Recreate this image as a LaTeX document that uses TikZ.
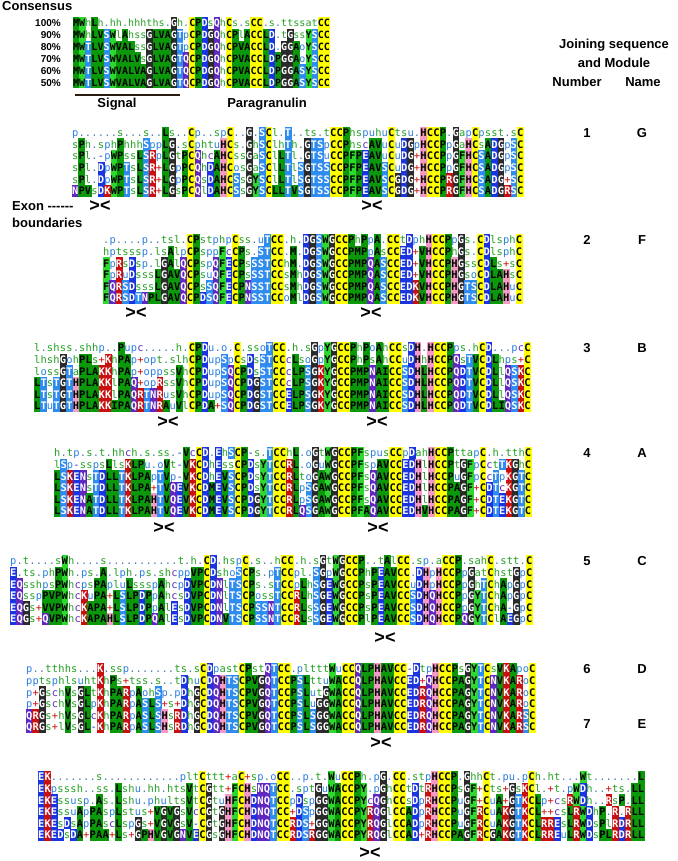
\documentclass[tikz,border=0pt]{standalone}
\usepackage{fontspec}
\setmainfont{Liberation Sans}
\newfontfamily\seqfont{DejaVu Sans Mono}
\definecolor{cY}{HTML}{FFFF00}
\definecolor{cG}{HTML}{2A2A2A}
\definecolor{cHy}{HTML}{0B990B}
\definecolor{cAr}{HTML}{2FD82F}
\definecolor{cPk}{HTML}{F59AC4}
\definecolor{cSk}{HTML}{2E8BF0}
\definecolor{cBl}{HTML}{1A35E0}
\definecolor{cPu}{HTML}{6028C0}
\definecolor{cRd}{HTML}{C81010}
\definecolor{tGn}{HTML}{23A023}
\definecolor{tBl}{HTML}{2A7FE0}
\definecolor{tPu}{HTML}{6028C0}
\definecolor{tRd}{HTML}{D01010}
\definecolor{tDk}{HTML}{1A35E0}
\definecolor{tDot}{HTML}{4F7FAF}
\definecolor{barc}{HTML}{2A1A10}
\makeatletter
\newdimen\sqxo \newdimen\sqw \newdimen\sqyc \newdimen\sqh \newdimen\sqhh \newdimen\sqbl
\newcount\sqi
\def\sqfs{10.4}
\sqbl=3.8pt
\def\sqtxt#1#2{\pgftext[base,at={\pgfqpoint{\dimexpr\sqxo+\sqw*\sqi+0.5\sqw\relax}{\dimexpr-\sqyc-\sqbl\relax}}]{\seqfont\fontsize{\sqfs}{\sqfs}\selectfont#2\color{#1}\sqch}}
\def\sqbox#1#2{\pgfsetfillcolor{#1}%
  \pgfpathrectangle{\pgfqpoint{\dimexpr\sqxo+\sqw*\sqi\relax}{\dimexpr-\sqyc-\sqhh\relax}}{\pgfqpoint{\dimexpr\sqw+0.3pt\relax}{\dimexpr\sqh+0.3pt\relax}}%
  \pgfusepath{fill}\sqtxt{#2}{\bfseries}}
\def\defbox#1#2#3{\@namedef{rs@#1}{\sqbox{#2}{#3}}}
\def\deftxt#1#2{\@namedef{rs@#1}{\sqtxt{#2}{}}}
\defbox{C}{cY}{black}
\defbox{G}{cG}{white}
\defbox{A}{cHy}{black}\defbox{V}{cHy}{black}\defbox{L}{cHy}{black}
\defbox{I}{cHy}{black}\defbox{M}{cHy}{black}\defbox{P}{cHy}{black}
\defbox{F}{cAr}{black}\defbox{W}{cAr}{black}\defbox{Y}{cAr}{black}
\defbox{H}{cPk}{black}
\defbox{S}{cSk}{white}\defbox{T}{cSk}{white}
\defbox{D}{cBl}{white}\defbox{E}{cBl}{white}
\defbox{N}{cPu}{white}\defbox{Q}{cPu}{white}
\defbox{K}{cRd}{white}\defbox{R}{cRd}{white}
\deftxt{h}{tGn}\deftxt{l}{tGn}\deftxt{a}{tGn}\deftxt{s}{tGn}\deftxt{t}{tGn}
\deftxt{p}{tBl}\deftxt{o}{tBl}\deftxt{u}{tBl}
\deftxt{c}{tPu}\deftxt{+}{tRd}\deftxt{-}{tDk}\deftxt{.}{tDot}
\def\sqrow#1#2#3#4#5{\sqxo=#1pt\relax\sqw=#2pt\relax\sqyc=#3pt\relax\sqh=#4pt\relax
  \sqhh=0.5\sqh\sqi=0\relax
  \@tfor\sqch:=#5\do{\csname rs@\sqch\endcsname\advance\sqi by 1\relax}}
\makeatother
\tikzset{
  lab/.style={font=\fontsize{13}{15}\selectfont\bfseries, inner sep=0pt, anchor=base},
  pct/.style={font=\fontsize{10}{12}\selectfont\bfseries, inner sep=0pt, anchor=base east},
  mk/.style={font=\fontsize{18}{18}\selectfont\bfseries, inner sep=0pt}
}
\begin{document}
\begin{tikzpicture}[x=1pt,y=-1pt]
\fill[white] (0,0) rectangle (677,861);
\useasboundingbox (0,0) rectangle (677,861);
% ---------- consensus
\node[lab,anchor=base west] (cons) at (2,10.6) {Consensus};
\node[pct] (p100) at (61,26.6) {100\%};
\node[pct] (p90) at (61,38.5) {90\%};
\node[pct] (p80) at (61,50.4) {80\%};
\node[pct] (p70) at (61,62.3) {70\%};
\node[pct] (p60) at (61,74.2) {60\%};
\node[pct] (p50) at (61,86.1) {50\%};
\def\sqfs{10}
\sqrow{73}{6.12}{23}{11.9}{MWhLh.hh.hhhths.Gh.CPDsQhCs.sCC.s.ttssatCC}
\sqrow{73}{6.12}{34.9}{11.9}{MWhLVSWlAhssGLVAGTpCPDGQhCPlACCLD.tGssYSCC}
\sqrow{73}{6.12}{46.8}{11.9}{MWTLVSWVALssGLVAGTpCPDGQhCPVACCLD.GGAoYSCC}
\sqrow{73}{6.12}{58.7}{11.9}{MWTLVSWVALVsGLVAGTQCPDGQhCPVACCLDPGGAoYSCC}
\sqrow{73}{6.12}{70.6}{11.9}{MWTLVSWVALVAGLVAGTQCPDGQhCPVACCLDPGGASYSCC}
\sqrow{73}{6.12}{82.5}{11.9}{MWTLVSWVALVAGLVAGTQCPDGQhCPVACCLDPGGASYSCC}
\def\sqfs{10.4}
\coordinate (sigL) at (75,95);
\coordinate (sigR) at (180,95);
\draw[line width=2.2pt,barc] (sigL) -- (sigR);
\node[lab] (sig) at (117,107.6) {Signal};
\node[lab] (para) at (267,107.6) {Paragranulin};
% ---------- right header
\node[lab] (hj1) at (614,48.6) {Joining sequence};
\node[lab] (hj2) at (614,67.6) {and Module};
\node[lab] (hnum) at (577,86.6) {Number};
\node[lab] (hname) at (643,86.6) {Name};
% ---------- block 1
\sqrow{72}{6.45}{133}{11.6}{p......s...s..Ls..Cp..spC..G.SCl.T..ts.tCCPhspuhuCtsu.HCCP.GapCpsst.sC}
\sqrow{72}{6.45}{144.6}{11.6}{sPh.sphPhhhSppLG.sCphtuHCs.GhSClhTh.GTSpCCPhscAVuCuDGpHCCPpGaHCsADGpSC}
\sqrow{72}{6.45}{156.2}{11.6}{sPl.-pWPssLSRpLGtPCQhcAHCssGaSClLTl.GTSuCCPFPEAVuCuDG+HCCPpGFHCSADGpSC}
\sqrow{72}{6.45}{167.8}{11.6}{sPl.DpWPTsLSR+LGpPCQhDAHCosGaSClLTlSGTSSCCPFPEAVSCuDG+HCCPpGFHCSADGpSC}
\sqrow{72}{6.45}{179.4}{11.6}{sPl.DpWPTsLSR+LGpPCQsDAHCSsGYSClLTlSGTSSCCPFPEAVSCGDG+HCCPRGFHCSADG+SC}
\sqrow{72}{6.45}{191}{11.6}{NPVsDKWPTsLSR+LGsPCQlDAHCSsGYSCLLTVSGTSSCCPFPEAVSCGDG+HCCPRGFHCSADGRSC}
\node[mk] (m1a) at (100,206) {><};
\node[mk] (m1b) at (372,206) {><};
\node[lab,anchor=base west] (exon) at (12,210.6) {Exon -{}-{}-{}-{}-{}-};
\node[lab,anchor=base west] (bnd) at (12,227.6) {boundaries};
\node[lab] (n1) at (587,137.6) {1};
\node[lab] (g1) at (642,137.6) {G};
% ---------- block 2
\sqrow{103}{6.45}{240}{11.6}{.p....p..tsl.CPstphpCss.uTCC.h.DGSWGCCPhPpA.CCtDphHCCPpGs.CDlsphC}
\sqrow{103}{6.45}{251.6}{11.6}{hptsssp.lsAlpCPsppFcCPs.STCC.M.DGSWGCCPMPpAsCCED+VHCCPhGs.CDlsphC}
\sqrow{103}{6.45}{263.2}{11.6}{FpRsDsp.lGAlQCPspQFECPsSSTCChM.DGSWGCCPMPQASCCED+VHCCPHGssCDLs+sC}
\sqrow{103}{6.45}{274.8}{11.6}{FpRuDsssLGAVQCPsuQFECPsSSTCCsMhDGSWGCCPMPQASCCED+VHCCPHGsoCDLAHsC}
\sqrow{103}{6.45}{286.4}{11.6}{FQRSDsssLGAVQCPsSQFECPNSSTCCsMhDGSWGCCPMPQASCCEDKVHCCPHGTSCDLAHuC}
\sqrow{103}{6.45}{298}{11.6}{FQRSDTNPLGAVQCPDSQFECPNSSTCCoMlDGSWGCCPMPQASCCEDKVHCCPHGTSCDLAHuC}
\node[mk] (m2a) at (136,313) {><};
\node[mk] (m2b) at (371,313) {><};
\node[lab] (n2) at (587,244.6) {2};
\node[lab] (g2) at (642,244.6) {F};
% ---------- block 3
\sqrow{34}{6.45}{348}{11.6}{l.shss.shhp..Pupc.....h.CPDu.o.C.ssoTCC.h.sGpYGCCPhPoAhCCsDH.HCCPps.hCD...pcC}
\sqrow{34}{6.45}{359.6}{11.6}{lhshGohPLs+KhPAp+opt.slhCPDupSpCsDsSTCCcLsoGpYGCCPhPsAhCCuDHhHCCPQsTVCDLhps+C}
\sqrow{34}{6.45}{371.2}{11.6}{lossGTaPLAKKhPAp+oppssVhCPDupSQCPDsSTCCcLPSGKYGCCPMPNAICCSDHLHCCPQDTVCDLlQSKC}
\sqrow{34}{6.45}{382.8}{11.6}{LTsTGTHPLAKKlPAQ+opRssVhCPDupSQCPDGSTCCcLPSGKYGCCPMPNAICCSDHLHCCPQDTVCDLlQSKC}
\sqrow{34}{6.45}{394.4}{11.6}{LTsTGTHPLAKKlPAQRTNRusVhCPDupSQCPDGSTCCELPSGKYGCCPMPNAICCSDHLHCCPQDTVCDLlQSKC}
\sqrow{34}{6.45}{406}{11.6}{LTuTGTHPLAKKIPAQRTNRAuVlCPDA+SQCPDGSTCCELPSGKYGCCPMPNAICCSDHLHCCPQDTVCDLIQSKC}
\node[mk] (m3a) at (168,422) {><};
\node[mk] (m3b) at (377,422) {><};
\node[lab] (n3) at (587,352.6) {3};
\node[lab] (g3) at (642,352.6) {B};
% ---------- block 4
\sqrow{54}{6.45}{453}{11.6}{h.tp.s.t.hhch.s.ss.-VcCD.EhSCP-s.TCChL.oGtWGCCPFspusCCpDahHCCPttapC.h.tthC}
\sqrow{54}{6.45}{464.6}{11.6}{lSp-sspsLlsKLPu.oVt-VKCDhEssCPDsYTCCRL.oGuWGCCPFspAVCCEDHlHCCPtGFpCctTKGhC}
\sqrow{54}{6.45}{476.2}{11.6}{LSKENsTDLLTKLPApTVp-VKCDhEVSCPDsYTCCRLtoGAWGCCPFsQAVCCEDHlHCCPuGFpCcTpKGTC}
\sqrow{54}{6.45}{487.8}{11.6}{LSKENsTDLLTKLPA+TVQEVKCDMEVSCPDsYTCCRLpSGAWGCCPFsQAVCCEDHlHCCPAGF+CDTcKGTC}
\sqrow{54}{6.45}{499.4}{11.6}{LSKENATDLLTKLPAHTVQEVKCDMEVSCPDGYTCCRLpSGAWGCCPFsQAVCCEDHlHCCPAGF+CDTEKGTC}
\sqrow{54}{6.45}{511}{11.6}{LSKENATDLLTKLPAHTVQEVKCDMEVSCPDGYTCCRLQSGAWGCCPFAQAVCCEDHVHCCPAGF+CDTEKGTC}
\node[mk] (m4a) at (164,528) {><};
\node[mk] (m4b) at (378,528) {><};
\node[lab] (n4) at (587,457.6) {4};
\node[lab] (g4) at (642,457.6) {A};
% ---------- block 5
\sqrow{10}{6.45}{561}{11.6}{p.t....sWh....s...........t.h.CD.hspC.s..hCC.h.sGtWGCCP..tAlCC.sp.aCCP.sahC.stt.C}
\sqrow{10}{6.45}{572.6}{11.6}{E.ts.phPWh.ps.A.lph.ps.shcppVPCDshoSCPs.pTCCpl.SGpWGCCPhPEAVCC.DHpHCCPpGatChstGpC}
\sqrow{10}{6.45}{584.2}{11.6}{EQsshpsPWhcpsPApluLssspAhcpDVPCDNlTSCPs.sTCCpLhSGEWGCCPsPEAVCCuDHpHCCPpGhTChApGpC}
\sqrow{10}{6.45}{595.8}{11.6}{EQsspPVPWhcKuPA+LSLPDPpAhcsDVPCDNlTSCPossTCCRLhSGEWGCCPsPEAVCCSDHQHCCPpGYTChApGpC}
\sqrow{10}{6.45}{607.4}{11.6}{EQGs+VVPWhcKAPA+LSLPDPpAlEsDVPCDNlTSCPSSNTCCRLsSGEWGCCPsPEAVCCSDHQHCCPpGYTChA-GpC}
\sqrow{10}{6.45}{619}{11.6}{EQGs+QVPWhcKAPAHLSLPDPQAlEsDVPCDNVTSCPSSNTCCRLsSGEWGCCPlPEAVCCSDHQHCCPQGYTClAEGpC}
\node[mk] (m5a) at (385,638) {><};
\node[lab] (n5) at (587,565.6) {5};
\node[lab] (g5) at (642,565.6) {C};
% ---------- block 6
\sqrow{26}{6.45}{669}{11.6}{p..tthhs...K.ssp.......ts.sCDpastCPstQTCC.pltttWuCCQLPHAVCC-DtpHCCPsGYTCsVKApoC}
\sqrow{26}{6.45}{680.6}{11.6}{pptsphlsuhtKhPs+tss.s..tDhuCDQHTSCPVGQTCCPSLttuWACCQLPHAVCCED+QHCCPAGYTCNVKARoC}
\sqrow{26}{6.45}{692.2}{11.6}{p+GschVsGLtKhPARpAohSp.pDhGCDQHTSCPVGQTCCPSLutGWACCQLPHAVCCEDRQHCCPAGYTCNVKARoC}
\sqrow{26}{6.45}{703.8}{11.6}{p+GschVsGLpKhPARpASLS+s+DhGCDQHTSCPVGQTCCPSLuGGWACCQLPHAVCCEDRQHCCPAGYTCNVKARoC}
\sqrow{26}{6.45}{715.4}{11.6}{QRGs+hVsGLcKhPARpASLSHsRDhGCDQHTSCPVGQTCCPSLSGGWACCQLPHAVCCEDRQHCCPAGYTCNVKARSC}
\sqrow{26}{6.45}{727}{11.6}{QRGs+lVsGL-KhPARpASLSHsRDhGCDQHTSCPVGQTCCPSLSGGWACCQLPHAVCCEDRQHCCPAGYTCNVKARSC}
\node[mk] (m6a) at (381,743) {><};
\node[lab] (n6) at (587,673.6) {6};
\node[lab] (g6) at (642,673.6) {D};
% ---------- block 7
\node[lab] (n7) at (587,728.6) {7};
\node[lab] (g7) at (642,728.6) {E};
\sqrow{38}{6.45}{777}{11.6}{EK.......s............pltCttt+aC+sp.oCC..p.t.WuCCPh.pG.CC.stpHCCP.GhhCt.pu.pCh.ht...Wt.......L}
\sqrow{38}{6.45}{788.6}{11.6}{EKpsssh..ss.Lshu.hh.htsVtCGtt+FCHsNQTCC.sptGuWACCPY.pGhCCtDtRHCCPsGF+Cts+GsKCl.+t.pWDh..+ts.LL}
\sqrow{38}{6.45}{800.2}{11.6}{EKEssusp.As.Lshu.phultsVtCGtuHFCHDNQTCCpDspGGWACCPYcQGhCCsDpRHCCPuGF+CuA+GTKCLp+csRWDh..RsP.LL}
\sqrow{38}{6.45}{811.8}{11.6}{EKEssuApPAspLstus+VGVGsVcCGtGHFCHDNQTCC+DSpGGWACCPYRQGlCCADpRHCCPuGFRCuAKGTKCL++csLRWDhP.R.RLL}
\sqrow{38}{6.45}{823.4}{11.6}{EKEsDsApPAscLspGs+VGVGsV-CGtGHFCHDNQTCCRDS+GGWACCPYRQGlCCADpRHCCPuGFRCuAKGTKCLRREsLRWDsPlRDRLL}
\sqrow{38}{6.45}{835}{11.6}{EKEDsDA+PAA+Ls+GPHVGVGNVECGsGHFCHDNQTCCRDSRGGWACCPYRQGlCCAD+RHCCPAGFRCGAKGTKCLRREuLRWDsPLRDRLL}
\node[mk] (m7a) at (370,853) {><};
\end{tikzpicture}
\end{document}
